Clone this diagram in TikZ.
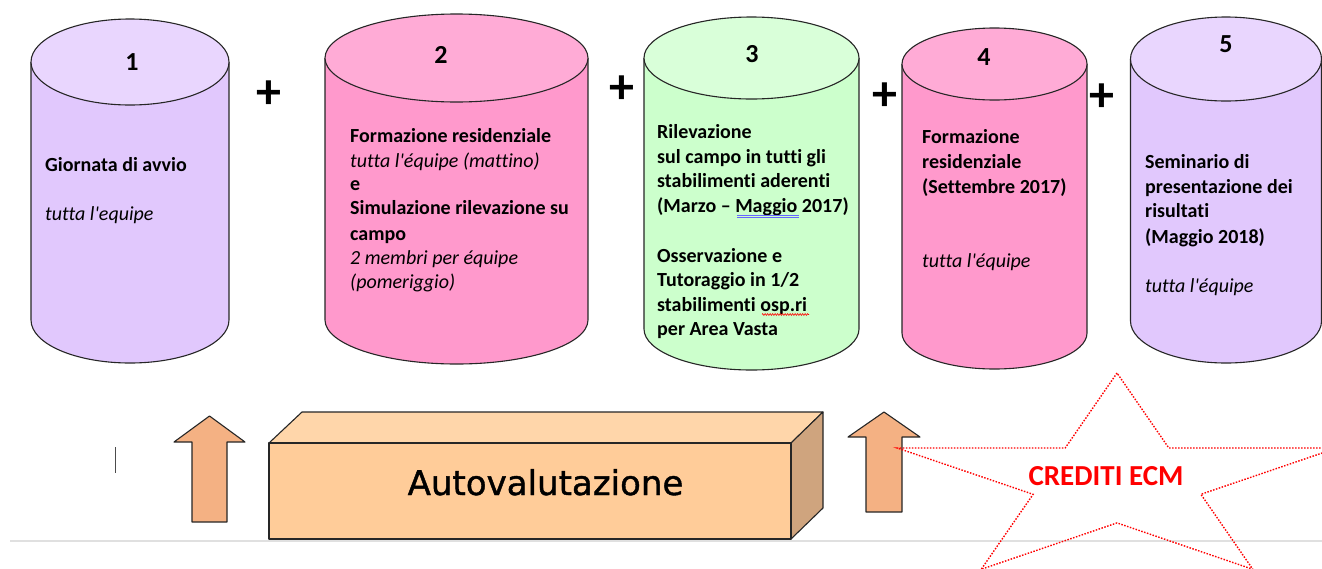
\documentclass[tikz,border=0pt]{standalone}
\usepackage{fontspec}
\setmainfont{Carlito}[Ligatures={TeX,NoCommon}]
\newfontfamily\djv{DejaVu Sans}[FakeBold=1.2]
\usetikzlibrary{decorations.pathmorphing}
\definecolor{lavbody}{HTML}{E1C8FD}
\definecolor{lavtop}{HTML}{E9D6FE}
\definecolor{pinkbody}{HTML}{FF99CC}
\definecolor{pinktop}{HTML}{FFABD6}
\definecolor{grnbody}{HTML}{CCFFCC}
\definecolor{grntop}{HTML}{D9FFD9}
\definecolor{arrowfill}{HTML}{F4B183}
\definecolor{boxfront}{HTML}{FFCC99}
\definecolor{boxtop}{HTML}{FFD6AA}
\definecolor{boxside}{HTML}{CFA47E}
\definecolor{ecmred}{HTML}{FF0000}
\tikzset{
  outl/.style={draw=black!85, line width=1.1pt, line join=round},
  txt/.style={font=\fontsize{20}{24}\selectfont, anchor=base west, inner sep=0pt},
  numtxt/.style={font=\fontsize{26}{26}\selectfont\bfseries, anchor=base, inner sep=0pt},
  plustxt/.style={font=\fontsize{50}{50}\selectfont\bfseries, anchor=center, inner sep=0pt},
  starline/.style={draw=ecmred, line width=1.4pt, dash pattern=on 1.5pt off 1.5pt},
}
\newcommand\mycyl[7]{%
  \fill[#6] (#1,#3) ellipse [x radius=#4pt, y radius=#5pt];
  \fill[#6] (#1-#4,#2) rectangle (#1+#4,#3);
  \draw[outl] (#1-#4,#2) -- (#1-#4,#3) arc[start angle=180, end angle=360, x radius=#4pt, y radius=#5pt] -- (#1+#4,#2);
  \filldraw[outl, fill=#7] (#1,#2) ellipse [x radius=#4pt, y radius=#5pt];
}
\begin{document}
\begin{tikzpicture}[x=1pt,y=-1pt]
\useasboundingbox (0,0) rectangle (1322,568);
\clip (0,0) rectangle (1322,568);
\fill[white] (0,0) rectangle (1322,568);

% cylinders
\mycyl{130}{62}{320}{99}{43}{lavbody}{lavtop}
\mycyl{456.5}{58}{320}{131.5}{44}{pinkbody}{pinktop}
\mycyl{751.5}{58}{329}{107.5}{41}{grnbody}{grntop}
\mycyl{994.5}{64}{333}{92.5}{36}{pinkbody}{pinktop}
\mycyl{1226}{59}{321}{95.5}{42}{lavbody}{lavtop}

% numbers
\node[numtxt] (n1) at (132,70) {1};
\node[numtxt] (n2) at (441,63) {2};
\node[numtxt] (n3) at (752,62) {3};
\node[numtxt] (n4) at (984,65) {4};
\node[numtxt] (n5) at (1226,52) {5};

% plus signs
\node[plustxt] (p1) at (269,95) {+};
\node[plustxt] (p2) at (622,90) {+};
\node[plustxt] (p3) at (885,97) {+};
\node[plustxt] (p4) at (1102,98) {+};

% cylinder 1 text
\node[txt] (c1a) at (45,171) {\bfseries Giornata di avvio};
\node[txt] (c1b) at (45,220) {\itshape tutta l\textquotesingle equipe};

% cylinder 2 text
\node[txt] (c2a) at (350,142) {\bfseries Formazione residenziale};
\node[txt] (c2b) at (350,167) {\itshape tutta l\textquotesingle équipe (mattino)};
\node[txt] (c2c) at (350,190) {\bfseries e};
\node[txt] (c2d) at (350,214) {\bfseries Simulazione rilevazione su};
\node[txt] (c2e) at (350,240) {\bfseries campo};
\node[txt] (c2f) at (350,264) {\itshape 2 membri per équipe};
\node[txt] (c2g) at (350,288) {\itshape (pomeriggio)};

% cylinder 3 text
\node[txt] (c3a) at (657,138) {\bfseries Rilevazione};
\node[txt] (c3b) at (657,163) {\bfseries sul campo in tutti gli};
\node[txt] (c3c) at (657,187) {\bfseries stabilimenti aderenti};
\node[txt] (c3d) at (657,212) {\bfseries (Marzo – Maggio 2017)};
\node[txt] (c3e) at (657,262) {\bfseries Osservazione e};
\node[txt] (c3f) at (657,286) {\bfseries Tutoraggio in 1/2};
\node[txt] (c3g) at (657,311) {\bfseries stabilimenti osp.ri};
\node[txt] (c3h) at (657,335) {\bfseries per Area Vasta};
\draw[blue!60, line width=0.6pt] (737,215.5) -- (799,215.5);
\draw[blue!60, line width=0.6pt] (737,217.5) -- (799,217.5);
\draw[red, line width=0.6pt, decorate, decoration={zigzag, amplitude=0.9pt, segment length=2.5pt}] (762,314.5) -- (809,314.5);

% cylinder 4 text
\node[txt] (c4a) at (922,143) {\bfseries Formazione};
\node[txt] (c4b) at (922,168) {\bfseries residenziale};
\node[txt] (c4c) at (922,193) {\bfseries (Settembre 2017)};
\node[txt] (c4d) at (922,267) {\itshape tutta l\textquotesingle équipe};

% cylinder 5 text
\node[txt] (c5a) at (1145,168) {\bfseries Seminario di};
\node[txt] (c5b) at (1145,193) {\bfseries presentazione dei};
\node[txt] (c5c) at (1145,217) {\bfseries risultati};
\node[txt] (c5d) at (1145,243) {\bfseries (Maggio 2018)};
\node[txt] (c5e) at (1145,292) {\itshape tutta l\textquotesingle équipe};

% baseline and cursor
\draw[black!12, line width=1.5pt] (10,541) -- (1322,541);
\draw[black!70, line width=0.8pt] (115,447) -- (115,473);

% arrows
\filldraw[outl, fill=arrowfill] (192,522) -- (192,442) -- (174,442) -- (209.5,416) -- (245,442) -- (227,442) -- (227,522) -- cycle;
\filldraw[outl, fill=arrowfill] (866,512) -- (866,437) -- (848,437) -- (884,412) -- (920,437) -- (902,437) -- (902,512) -- cycle;

% 3D box
\filldraw[outl, fill=boxtop] (269,443) -- (302,412) -- (823,412) -- (791,443) -- cycle;
\filldraw[outl, fill=boxside] (791,443) -- (823,412) -- (823,508) -- (791,539) -- cycle;
\filldraw[outl, fill=boxfront] (269,443) rectangle (791,539);
\node[font=\djv\fontsize{34}{34}\selectfont, anchor=base, inner sep=0pt] (auto) at (545.5,495) {Autovalutazione};

% star
\draw[starline] (1117,373) -- (1065.2,448) -- (897.2,448) -- (1033.1,494.3) -- (981.2,569.3) -- (1117,522.9) -- (1252.8,569.3) -- (1200.9,494.3) -- (1336.8,448) -- (1168.8,448) -- cycle;
\node[font=\fontsize{29}{29}\selectfont\bfseries, text=ecmred, anchor=center, inner sep=0pt] (ecm) at (1106,476) {CREDITI ECM};
\end{tikzpicture}
\end{document}
